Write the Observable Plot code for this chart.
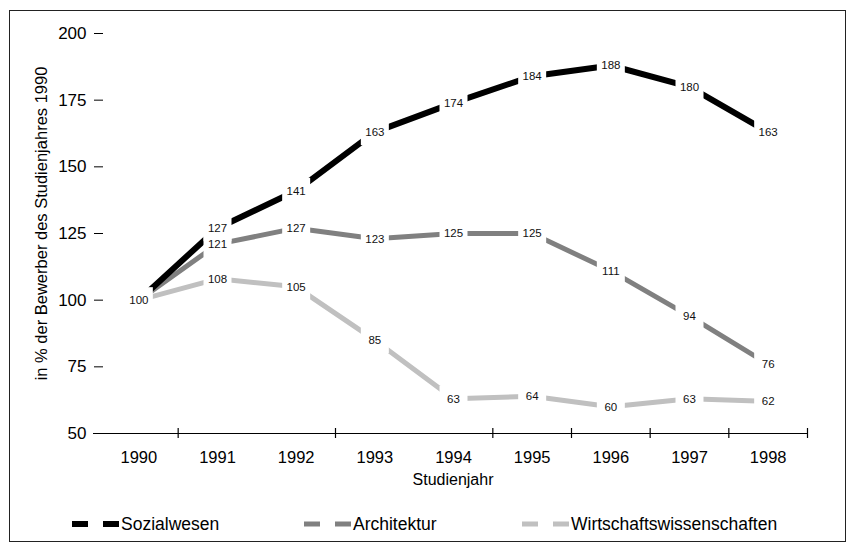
<!DOCTYPE html>
<html>
<head>
<meta charset="utf-8">
<script src="https://cdn.jsdelivr.net/npm/d3@7"></script>
<script src="https://cdn.jsdelivr.net/npm/@observablehq/plot@0.6"></script>
<style>
  html, body { margin: 0; padding: 0; background: #fff; }
  body { width: 853px; height: 552px; position: relative; overflow: hidden; font-family: "Liberation Sans", Arial, sans-serif; }
  #chart { position: absolute; left: 0; top: 0; }
  #frame { position: absolute; left: 9px; top: 10px; width: 837px; height: 532px; box-sizing: border-box; border: 1px solid #222; pointer-events: none; }
  #legend { position: absolute; left: 0; top: 512px; width: 853px; height: 24px; }
  .item { position: absolute; top: 0; height: 24px; display: flex; align-items: center; font-size: 17.5px; color: #000; white-space: nowrap; }
  .item svg { display: block; margin-right: 2px; }
</style>
</head>
<body>
<div id="chart"></div>
<div id="legend"></div>
<div id="frame"></div>
<script>
// ---- data ----
const years = [1990, 1991, 1992, 1993, 1994, 1995, 1996, 1997, 1998];
const sozialwesen = [100, 127, 141, 163, 174, 184, 188, 180, 163];
const architektur = [100, 121, 127, 123, 125, 125, 111, 94, 76];
const wirtschaft = [100, 108, 105, 85, 63, 64, 60, 63, 62];
const seriesNames = ["Sozialwesen", "Architektur", "Wirtschaftswissenschaften"];
const seriesColors = ["#000000", "#808080", "#c0c0c0"];
const seriesWidths = [6, 5, 5];
const yTicks = [50, 75, 100, 125, 150, 175, 200];
const xBoundaryTicks = [1990.5, 1992.5, 1994.5, 1995.5, 1996.5, 1997.5, 1998.5];
const yTitle = "in % der Bewerber des Studienjahres 1990";
const xTitle = "Studienjahr";

const seriesValues = [sozialwesen, architektur, wirtschaft];
const table = seriesNames.flatMap((name, s) =>
  years.map((year, i) => ({series: name, year, value: seriesValues[s][i]}))
);
// one label per distinct point (the three series share 100 in 1990)
const labelRows = table.filter((d, i) =>
  table.findIndex(e => e.year === d.year && e.value === d.value) === i
);

const labelBox = { draw(context) { context.rect(-14, -13, 28, 26); } };
const font = "'Liberation Sans', Arial, sans-serif";

const lineMarks = [2, 1, 0].map(s =>
  Plot.line(table.filter(d => d.series === seriesNames[s]), {
    x: "year", y: "value", stroke: seriesColors[s], strokeWidth: seriesWidths[s],
    strokeLinecap: "butt", strokeLinejoin: "miter"
  })
);

const plot = Plot.plot({
  width: 853,
  height: 500,
  marginTop: 33,
  marginBottom: 67,
  marginLeft: 99,
  marginRight: 46,
  style: {background: "transparent", fontFamily: font, color: "#000"},
  x: {type: "linear", domain: [1989.5, 1998.5]},
  y: {domain: [50, 200]},
  marks: [
    Plot.ruleY([50], {stroke: "#000", strokeWidth: 1.2, insetLeft: -6}),
    Plot.ruleX(xBoundaryTicks, {x: d => d, y1: 50, y2: 50, insetTop: -5, insetBottom: -5, stroke: "#000", strokeWidth: 1.2}),
    Plot.axisX(years, {tickSize: 0, tickPadding: 18, fontSize: 16.5, tickFormat: d => String(d), label: null}),
    Plot.axisY(yTicks, {tickSize: 9, tickPadding: 8, dx: 4, fontSize: 17, label: null}),
    ...lineMarks,
    Plot.dot(labelRows, {x: "year", y: "value", symbol: labelBox, r: 5, fill: "white", stroke: null}),
    Plot.text(labelRows, {x: "year", y: "value", text: d => String(d.value), fontSize: 11.5, fill: "#111"})
  ]
});

const svg = d3.select(plot);
svg.append("text")
  .attr("transform", "translate(47,223.5) rotate(-90)")
  .attr("text-anchor", "middle")
  .attr("font-size", 16.5)
  .attr("font-family", font)
  .attr("fill", "#000")
  .text(yTitle);
svg.append("text")
  .attr("x", 453).attr("y", 485)
  .attr("text-anchor", "middle")
  .attr("font-size", 16)
  .attr("font-family", font)
  .attr("fill", "#000")
  .text(xTitle);

document.getElementById("chart").appendChild(plot);

// ---- legend ----
const legendLefts = [72, 304, 522];
const legend = d3.select("#legend");
seriesNames.forEach((name, s) => {
  const item = legend.append("div").attr("class", "item").style("left", legendLefts[s] + "px");
  const sw = item.append("svg").attr("width", 47).attr("height", 10);
  sw.append("line").attr("x1", 0).attr("x2", 47).attr("y1", 5).attr("y2", 5)
    .attr("stroke", seriesColors[s]).attr("stroke-width", seriesWidths[s])
    .attr("stroke-dasharray", "16 15");
  item.append("span").text(name);
});
</script>
</body>
</html>
